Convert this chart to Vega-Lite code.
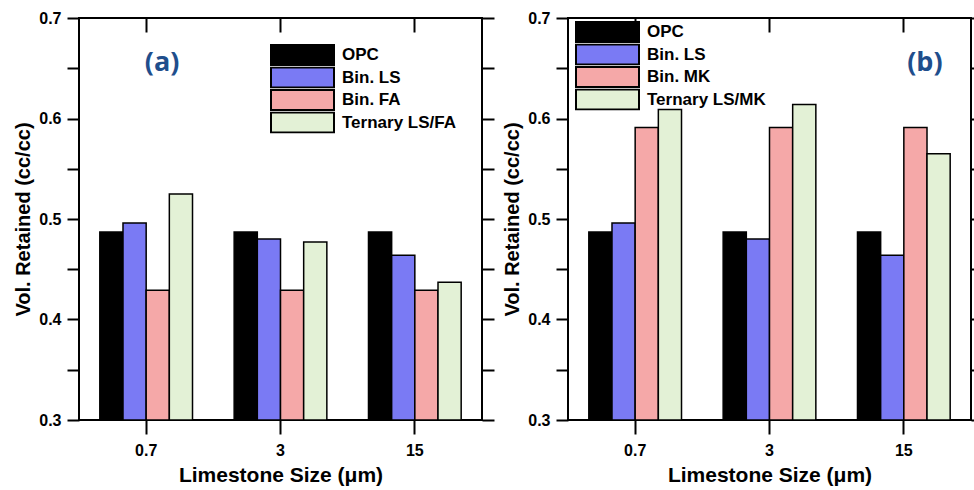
{
  "$schema": "https://vega.github.io/schema/vega-lite/v6.json",
  "padding": {"left": 12, "top": 9, "right": 0, "bottom": 0},
  "background": "white",
  "datasets": {
    "a": [
      {"size": "0.7", "series": "OPC", "value": 0.487},
      {"size": "0.7", "series": "Bin. LS", "value": 0.496},
      {"size": "0.7", "series": "Bin. FA", "value": 0.429},
      {"size": "0.7", "series": "Ternary LS/FA", "value": 0.525},
      {"size": "3", "series": "OPC", "value": 0.487},
      {"size": "3", "series": "Bin. LS", "value": 0.48},
      {"size": "3", "series": "Bin. FA", "value": 0.429},
      {"size": "3", "series": "Ternary LS/FA", "value": 0.477},
      {"size": "15", "series": "OPC", "value": 0.487},
      {"size": "15", "series": "Bin. LS", "value": 0.464},
      {"size": "15", "series": "Bin. FA", "value": 0.429},
      {"size": "15", "series": "Ternary LS/FA", "value": 0.437}
    ],
    "b": [
      {"size": "0.7", "series": "OPC", "value": 0.487},
      {"size": "0.7", "series": "Bin. LS", "value": 0.496},
      {"size": "0.7", "series": "Bin. MK", "value": 0.591},
      {"size": "0.7", "series": "Ternary LS/MK", "value": 0.609},
      {"size": "3", "series": "OPC", "value": 0.487},
      {"size": "3", "series": "Bin. LS", "value": 0.48},
      {"size": "3", "series": "Bin. MK", "value": 0.591},
      {"size": "3", "series": "Ternary LS/MK", "value": 0.614},
      {"size": "15", "series": "OPC", "value": 0.487},
      {"size": "15", "series": "Bin. LS", "value": 0.464},
      {"size": "15", "series": "Bin. MK", "value": 0.591},
      {"size": "15", "series": "Ternary LS/MK", "value": 0.565}
    ],
    "labA": [{"size": "0.7", "value": 0.655, "label": "(a)"}],
    "labB": [{"size": "15", "value": 0.655, "label": "(b)"}]
  },
  "config": {
    "font": "Liberation Sans",
    "view": {"stroke": "black", "strokeWidth": 2},
    "concat": {"spacing": 5},
    "axis": {
      "grid": false,
      "domain": false,
      "tickColor": "black",
      "tickWidth": 2,
      "labelColor": "black",
      "labelFont": "Liberation Sans",
      "labelFontWeight": "bold",
      "labelFontSize": 16,
      "titleColor": "black",
      "titleFont": "Liberation Sans",
      "titleFontWeight": "bold"
    },
    "legend": {
      "symbolType": "M-1,-0.32H1V0.32H-1Z",
      "symbolSize": 3969,
      "symbolStrokeColor": "black",
      "symbolStrokeWidth": 2,
      "symbolOpacity": 1,
      "labelFont": "Liberation Sans",
      "labelFontSize": 17,
      "labelFontWeight": "bold",
      "labelColor": "black",
      "labelOffset": 7,
      "clipHeight": 22,
      "rowPadding": 0.5,
      "title": null,
      "orient": "none"
    }
  },
  "resolve": {"scale": {"color": "independent", "xOffset": "independent"}, "legend": {"color": "independent"}},
  "hconcat": [
    {
      "width": 403,
      "height": 402,
      "resolve": {"axis": {"x": "independent", "y": "independent"}},
      "layer": [
        {
          "data": {"name": "a"},
          "mark": {"type": "bar", "stroke": "black", "strokeWidth": 1.5},
          "encoding": {
            "x": {
              "field": "size", "type": "nominal",
              "scale": {"domain": ["0.7", "3", "15"], "paddingInner": 0.31, "paddingOuter": 0.155},
              "axis": {"orient": "bottom", "title": "Limestone Size (μm)", "titleFontSize": 21, "labelAngle": 0, "tickSize": 14, "labelPadding": 8, "titlePadding": 6}
            },
            "xOffset": {"field": "series", "type": "nominal", "scale": {"domain": ["OPC", "Bin. LS", "Bin. FA", "Ternary LS/FA"], "paddingInner": 0}},
            "y": {
              "field": "value", "type": "quantitative",
              "scale": {"domain": [0.3, 0.7], "zero": false, "nice": false},
              "axis": {"orient": "left", "title": "Vol. Retained (cc/cc)", "titleFontSize": 20, "tickSize": 12, "labelPadding": 6, "titlePadding": 5,
                "values": [0.3, 0.35, 0.4, 0.45, 0.5, 0.55, 0.6, 0.65, 0.7],
                "labelExpr": "(round(datum.value*100) % 10 == 0) ? format(datum.value, '.1f') : ''"}
            },
            "y2": {"datum": 0.3},
            "color": {
              "field": "series", "type": "nominal",
              "scale": {"domain": ["OPC", "Bin. LS", "Bin. FA", "Ternary LS/FA"], "range": ["#000000", "#7a7af4", "#f5a8a8", "#e3f1d6"]},
              "legend": {"legendX": 191, "legendY": 26}
            }
          }
        },
        {
          "data": {"name": "labA"},
          "mark": {"type": "text", "font": "Open Sans", "fontWeight": "bold", "fontSize": 27, "color": "#1f4e8c", "dx": 16},
          "encoding": {
            "x": {"field": "size", "type": "nominal",
              "axis": {"orient": "top", "title": null, "labels": false, "tickSize": 14, "offset": -14}},
            "y": {"field": "value", "type": "quantitative",
              "axis": {"orient": "right", "title": null, "labels": false, "tickSize": 12,
                "values": [0.3, 0.35, 0.4, 0.45, 0.5, 0.55, 0.6, 0.65, 0.7]}},
            "text": {"field": "label"}
          }
        }
      ]
    },
    {
      "width": 403,
      "height": 402,
      "resolve": {"axis": {"x": "independent", "y": "independent"}},
      "layer": [
        {
          "data": {"name": "b"},
          "mark": {"type": "bar", "stroke": "black", "strokeWidth": 1.5},
          "encoding": {
            "x": {
              "field": "size", "type": "nominal",
              "scale": {"domain": ["0.7", "3", "15"], "paddingInner": 0.31, "paddingOuter": 0.155},
              "axis": {"orient": "bottom", "title": "Limestone Size (μm)", "titleFontSize": 21, "labelAngle": 0, "tickSize": 14, "labelPadding": 8, "titlePadding": 6}
            },
            "xOffset": {"field": "series", "type": "nominal", "scale": {"domain": ["OPC", "Bin. LS", "Bin. MK", "Ternary LS/MK"], "paddingInner": 0}},
            "y": {
              "field": "value", "type": "quantitative",
              "scale": {"domain": [0.3, 0.7], "zero": false, "nice": false},
              "axis": {"orient": "left", "title": "Vol. Retained (cc/cc)", "titleFontSize": 20, "tickSize": 12, "labelPadding": 6, "titlePadding": 5,
                "values": [0.3, 0.35, 0.4, 0.45, 0.5, 0.55, 0.6, 0.65, 0.7],
                "labelExpr": "(round(datum.value*100) % 10 == 0) ? format(datum.value, '.1f') : ''"}
            },
            "y2": {"datum": 0.3},
            "color": {
              "field": "series", "type": "nominal",
              "scale": {"domain": ["OPC", "Bin. LS", "Bin. MK", "Ternary LS/MK"], "range": ["#000000", "#7a7af4", "#f5a8a8", "#e3f1d6"]},
              "legend": {"legendX": 7, "legendY": 3}
            }
          }
        },
        {
          "data": {"name": "labB"},
          "mark": {"type": "text", "font": "Open Sans", "fontWeight": "bold", "fontSize": 27, "color": "#1f4e8c", "dx": 21},
          "encoding": {
            "x": {"field": "size", "type": "nominal",
              "axis": {"orient": "top", "title": null, "labels": false, "tickSize": 14, "offset": -14}},
            "y": {"field": "value", "type": "quantitative",
              "axis": {"orient": "right", "title": null, "labels": false, "tickSize": 12,
                "values": [0.3, 0.35, 0.4, 0.45, 0.5, 0.55, 0.6, 0.65, 0.7]}},
            "text": {"field": "label"}
          }
        }
      ]
    }
  ]
}
